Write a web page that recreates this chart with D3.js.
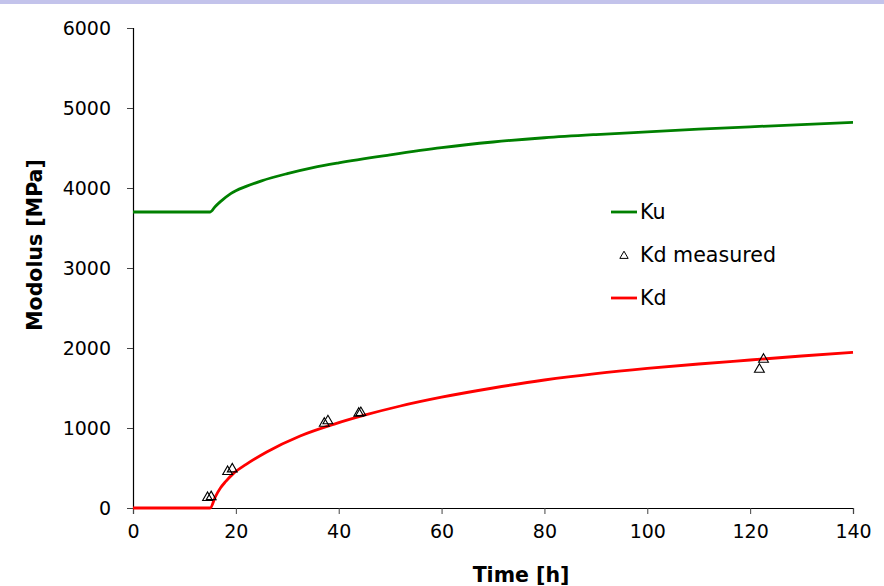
<!DOCTYPE html>
<html lang="en">
  <head>
    <meta charset="utf-8">
    <title>Modulus vs time</title>
    <script type="text/javascript" src="https://cdn.jsdelivr.net/npm/d3@7/dist/d3.min.js"></script>
<style>
body { margin: 0; background: #fff; }
svg { display: block; font-family: "DejaVu Sans", Verdana, sans-serif; }
</style>
  </head>
  <body>
    <script type="text/javascript">
      // values
      var timeTicks = [0, 20, 40, 60, 80, 100, 120, 140];
      var modTicks = [0, 1000, 2000, 3000, 4000, 5000, 6000];

      var kuTime = [0, 15, 16, 17, 19, 22, 25, 30, 35, 40, 50, 60, 70, 80, 90, 100, 110, 120, 130, 140];
      var kuVal  = [3700, 3700, 3770, 3830, 3930, 4020, 4090, 4180, 4255, 4315, 4415, 4505, 4575, 4628, 4668, 4702, 4735, 4765, 4793, 4820];

      var kdTime = [0, 15, 16, 17, 18, 19.5, 22, 26, 32.5, 39, 45, 52, 60, 70, 80, 90, 100, 110, 120, 130, 140];
      var kdVal  = [0, 0, 140, 250, 330, 430, 545, 700, 900, 1046, 1160, 1275, 1385, 1500, 1600, 1680, 1745, 1800, 1850, 1900, 1945];

      var measTime = [14.5, 15.2, 18.4, 19.3, 37.2, 37.9, 43.9, 44.3, 121.8, 122.6];
      var measVal  = [130, 140, 455, 487, 1058, 1088, 1183, 1191, 1733, 1858];

      var width = 884, height = 586;
      var plotLeft = 133, plotRight = 853, plotTop = 28, plotBottom = 508;

      var svg = d3.select("body").append("svg")
        .attr("width", width)
        .attr("height", height);

      svg.append("rect")
        .attr("x", 0).attr("y", 0)
        .attr("width", width).attr("height", 4)
        .attr("fill", "#c3c3eb");

      var x = d3.scaleLinear().domain([0, 140]).range([plotLeft, plotRight]);
      var y = d3.scaleLinear().domain([0, 6000]).range([plotBottom, plotTop]);

      var xAxis = svg.append("g")
        .attr("transform", "translate(0," + plotBottom + ")")
        .call(d3.axisBottom(x).tickValues(timeTicks).tickSize(6).tickPadding(11));
      var yAxis = svg.append("g")
        .attr("transform", "translate(" + plotLeft + ",0)")
        .call(d3.axisLeft(y).tickValues(modTicks).tickSize(6).tickPadding(16).tickFormat(d3.format("d")));

      [xAxis, yAxis].forEach(function(g) {
        g.select(".domain").attr("stroke", "#000").attr("stroke-width", 1.2);
        g.selectAll(".tick line").attr("stroke", "#444");
        g.selectAll(".tick text")
          .attr("font-family", "DejaVu Sans, Verdana, sans-serif")
          .attr("font-size", "19px")
          .attr("fill", "#000");
      });

      svg.append("text")
        .text("Time [h]")
        .attr("x", 521).attr("y", 582)
        .attr("text-anchor", "middle")
        .attr("font-size", "20.5px")
        .attr("font-weight", "bold");

      svg.append("text")
        .text("Modolus [MPa]")
        .attr("transform", "translate(42,245) rotate(-90)")
        .attr("text-anchor", "middle")
        .attr("font-size", "20.5px")
        .attr("font-weight", "bold");

      var line = d3.line()
        .x(function(d) { return x(d[0]); })
        .y(function(d) { return y(d[1]); })
        .curve(d3.curveMonotoneX);

      svg.append("path")
        .datum(d3.zip(kuTime, kuVal))
        .attr("d", line)
        .attr("fill", "none")
        .attr("stroke", "#008000")
        .attr("stroke-width", 2.8);

      svg.append("path")
        .datum(d3.zip(kdTime, kdVal))
        .attr("d", line)
        .attr("fill", "none")
        .attr("stroke", "#ff0000")
        .attr("stroke-width", 2.8);

      var tri = d3.symbol().type(d3.symbolTriangle).size(42);
      svg.selectAll("path.meas")
        .data(d3.zip(measTime, measVal))
        .enter()
        .append("path")
        .attr("class", "meas")
        .attr("d", tri)
        .attr("transform", function(d) { return "translate(" + x(d[0]) + "," + y(d[1]) + ")"; })
        .attr("fill", "none")
        .attr("stroke", "#000")
        .attr("stroke-width", 1.1);

      // legend
      var legend = svg.append("g").attr("font-size", "20.6px");
      legend.append("line")
        .attr("x1", 611).attr("x2", 637).attr("y1", 212).attr("y2", 212)
        .attr("stroke", "#008000").attr("stroke-width", 2.8);
      legend.append("text").text("Ku").attr("x", 640).attr("y", 219);
      legend.append("path")
        .attr("d", d3.symbol().type(d3.symbolTriangle).size(30))
        .attr("transform", "translate(624,256)")
        .attr("fill", "none").attr("stroke", "#000").attr("stroke-width", 1);
      legend.append("text").text("Kd measured").attr("x", 640).attr("y", 262);
      legend.append("line")
        .attr("x1", 611).attr("x2", 637).attr("y1", 298).attr("y2", 298)
        .attr("stroke", "#ff0000").attr("stroke-width", 2.8);
      legend.append("text").text("Kd").attr("x", 640).attr("y", 305);
    </script>
  </body>
</html>
